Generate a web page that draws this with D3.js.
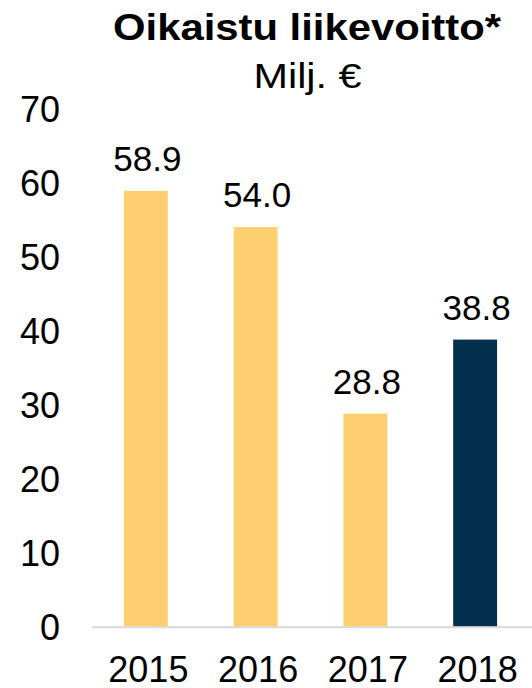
<!DOCTYPE html>
<html>
<head>
<meta charset="utf-8">
<script src="https://cdn.jsdelivr.net/npm/d3@7"></script>
<style>
  body { margin: 0; background: #fff; }
  svg { display: block; font-family: "Liberation Sans", Arial, sans-serif; }
</style>
</head>
<body>
<svg id="chart" width="532" height="688"></svg>
<script>
// data
const years = ["2015", "2016", "2017", "2018"];
const values = [58.9, 54.0, 28.8, 38.8];
const valueLabels = ["58.9", "54.0", "28.8", "38.8"];
const barColors = ["#FECF70", "#FECF70", "#FECF70", "#03304F"];
const yTicks = [0, 10, 20, 30, 40, 50, 60, 70];

const title = "Oikaistu liikevoitto*";
const subtitle = "Milj. €";

const svg = d3.select("#chart");
const width = 532, height = 688;

const x = d3.scaleBand()
    .domain(years)
    .range([91, 530])
    .paddingInner(0.6)
    .paddingOuter(0.3);

const y = d3.scaleLinear()
    .domain([0, 70])
    .range([626.7, 108.7]);

// title
svg.append("text")
    .attr("x", 307).attr("y", 40)
    .attr("text-anchor", "middle")
    .attr("font-size", 36).attr("font-weight", "bold")
    .attr("textLength", 388).attr("lengthAdjust", "spacingAndGlyphs")
    .text(title);

svg.append("text")
    .attr("x", 307.5).attr("y", 87.5)
    .attr("text-anchor", "middle")
    .attr("font-size", 35)
    .attr("textLength", 108).attr("lengthAdjust", "spacingAndGlyphs")
    .text(subtitle);

// y tick labels (no axis line)
svg.append("g")
    .selectAll("text")
    .data(yTicks)
    .join("text")
    .attr("x", 60)
    .attr("y", d => y(d))
    .attr("dy", "0.36em")
    .attr("text-anchor", "end")
    .attr("font-size", 36)
    .attr("fill", "#000")
    .text(d => d);

// bars
svg.append("g")
    .selectAll("rect")
    .data(values)
    .join("rect")
    .attr("x", (d, i) => x(years[i]))
    .attr("y", d => y(d))
    .attr("width", x.bandwidth())
    .attr("height", d => y(0) - y(d))
    .attr("fill", (d, i) => barColors[i]);

// baseline
svg.append("line")
    .attr("x1", 92).attr("x2", width)
    .attr("y1", y(0) + 0.5).attr("y2", y(0) + 0.5)
    .attr("stroke", "#D9D9D9")
    .attr("stroke-width", 2);

// value labels
svg.append("g")
    .selectAll("text")
    .data(values)
    .join("text")
    .attr("x", (d, i) => x(years[i]) + x.bandwidth() / 2 + 1.5)
    .attr("y", d => y(d) - 20)
    .attr("text-anchor", "middle")
    .attr("font-size", 35)
    .text((d, i) => valueLabels[i]);

// year labels
svg.append("g")
    .selectAll("text")
    .data(years)
    .join("text")
    .attr("x", d => x(d) + x.bandwidth() / 2 + 2.5)
    .attr("y", 682)
    .attr("text-anchor", "middle")
    .attr("font-size", 36)
    .text(d => d);
</script>
</body>
</html>
